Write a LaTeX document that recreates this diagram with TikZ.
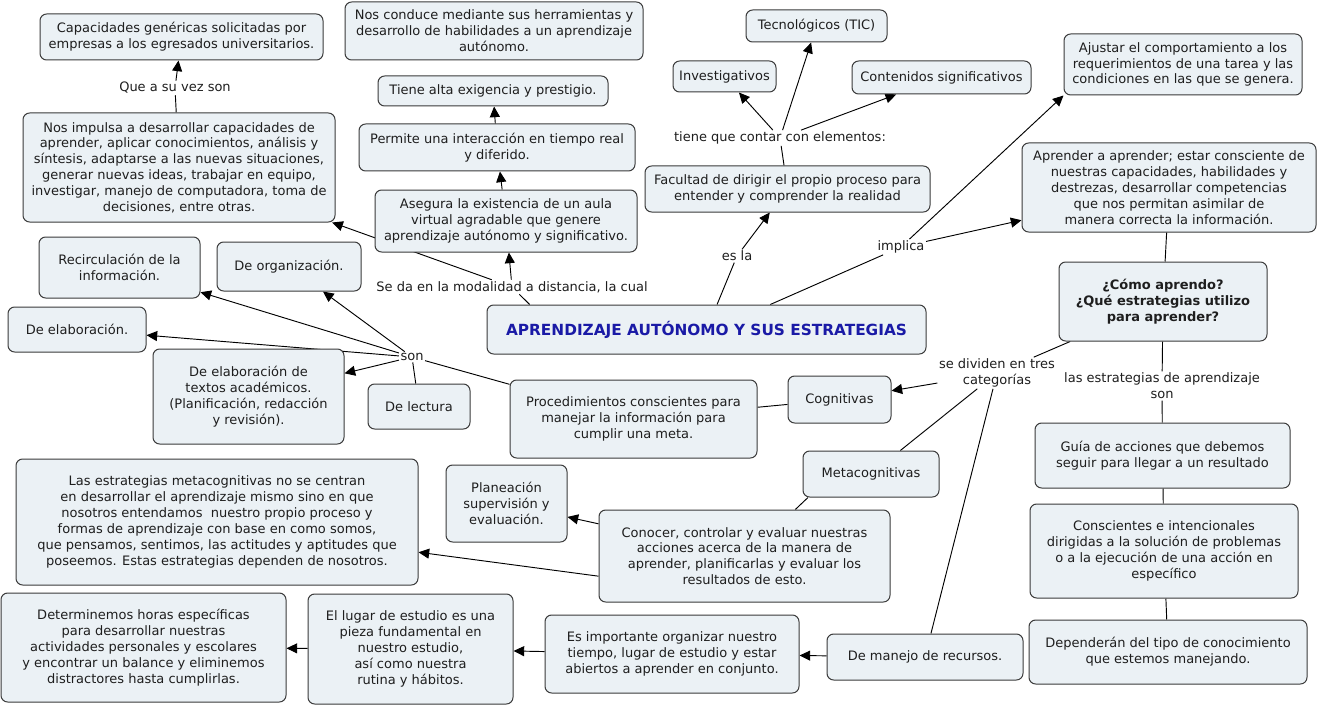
\documentclass[tikz,border=0pt]{standalone}
\usepackage{fontspec}
\setmainfont{DejaVu Sans}
\usetikzlibrary{arrows.meta,calc,backgrounds}
\definecolor{boxfill}{HTML}{EBF1F5}
\definecolor{boxline}{HTML}{3A3A3A}
\definecolor{titleblue}{HTML}{1A1AA6}
\definecolor{txt}{HTML}{1E1E1E}
\tikzset{
  box/.style={draw=boxline, fill=boxfill, rounded corners=5pt, line width=0.75pt, align=center, inner sep=0pt, text=txt,
              font=\fontsize{9.75}{11.9}\selectfont},
  bx/.style 2 args={box, minimum width=#1*0.75pt, minimum height=#2*0.75pt},
  titletext/.style={text=titleblue, font=\fontsize{11.5}{13}\selectfont\bfseries},
  boldtext/.style={font=\fontsize{9.75}{11.9}\selectfont\bfseries},
  lbl/.style={align=center, inner sep=1pt, text=txt, font=\fontsize{9.75}{11.9}\selectfont},
  ln/.style={draw=black, line width=0.7pt},
  arr/.style={ln, -{Triangle[length=8pt,width=7.5pt]}}
}
\begin{document}
\begin{tikzpicture}[x=0.75pt,y=-0.75pt]
\useasboundingbox (0,0) rectangle (1320,706);

% boxes
\node[bx={283}{46}] (cap) at (181.5,37) {Capacidades genéricas solicitadas por\\empresas a los egresados universitarios.};
\node[bx={312}{109}] (impulsa) at (179,167.5) {Nos impulsa a desarrollar capacidades de\\aprender, aplicar conocimientos, análisis y\\síntesis, adaptarse a las nuevas situaciones,\\generar nuevas ideas, trabajar en equipo,\\investigar, manejo de computadora, toma de\\decisiones, entre otras.};
\node[bx={298}{58}] (conduce) at (494,31) {Nos conduce mediante sus herramientas y\\desarrollo de habilidades a un aprendizaje\\autónomo.};
\node[bx={230}{30}] (tiene) at (493,91) {Tiene alta exigencia y prestigio.};
\node[bx={276}{47}] (permite) at (497,147.5) {Permite una interacción en tiempo real\\y diferido.};
\node[bx={262}{62}] (asegura) at (506,221) {Asegura la existencia de un aula\\virtual agradable que genere\\aprendizaje autónomo y significativo.};
\node[bx={103}{31}] (invest) at (724.5,76.5) {Investigativos};
\node[bx={141}{32}] (tecno) at (816.5,26) {Tecnológicos (TIC)};
\node[bx={179}{33}] (conten) at (941.5,77.5) {Contenidos significativos};
\node[bx={238}{61}] (ajustar) at (1183,64.5) {Ajustar el comportamiento a los\\requerimientos de una tarea y las\\condiciones en las que se genera.};
\node[bx={285}{46}] (facultad) at (787.5,189) {Facultad de dirigir el propio proceso para\\entender y comprender la realidad};
\node[bx={294}{89}] (aprender) at (1169,187.5) {Aprender a aprender; estar consciente de\\nuestras capacidades, habilidades y\\destrezas, desarrollar competencias\\que nos permitan asimilar de\\manera correcta la información.};
\node[bx={208}{79}, boldtext] (como) at (1163,301.5) {¿Cómo aprendo?\\¿Qué estrategias utilizo\\para aprender?};
\node[bx={255}{65}] (guia) at (1162.5,455.5) {Guía de acciones que debemos\\seguir para llegar a un resultado};
\node[bx={268}{94}] (consc) at (1164,551) {Conscientes e intencionales\\dirigidas a la solución de problemas\\o a la ejecución de una acción en\\específico};
\node[bx={278}{64}] (depend) at (1168,652) {Dependerán del tipo de conocimiento\\que estemos manejando.};
\node[bx={439}{49}, titletext] (main) at (706.5,329.5) {APRENDIZAJE AUTÓNOMO Y SUS ESTRATEGIAS};
\node[bx={161}{61}] (recirc) at (119.5,267.5) {Recirculación de la\\información.};
\node[bx={144}{49}] (organiz) at (289,266.5) {De organización.};
\node[bx={138}{45}] (elab) at (77,329.5) {De elaboración.};
\node[bx={191}{95}] (textos) at (248.5,396.5) {De elaboración de\\textos académicos.\\(Planificación, redacción\\y revisión).};
\node[bx={102}{45}] (lectura) at (419,406.5) {De lectura};
\node[bx={247}{78}] (proced) at (633.5,419) {Procedimientos conscientes para\\manejar la información para\\cumplir una meta.};
\node[bx={103}{47}] (cognit) at (839.5,399.5) {Cognitivas};
\node[bx={136}{46}] (metac) at (871,474) {Metacognitivas};
\node[bx={291}{92}] (conocer) at (744.5,556) {Conocer, controlar y evaluar nuestras\\acciones acerca de la manera de\\aprender, planificarlas y evaluar los\\resultados de esto.};
\node[bx={121}{77}] (planea) at (506.5,503.5) {Planeación\\supervisión y\\evaluación.};
\node[bx={402}{126}] (lasestr) at (217,522) {Las estrategias metacognitivas no se centran\\en desarrollar el aprendizaje mismo sino en que\\nosotros entendamos\ \ nuestro propio proceso y\\formas de aprendizaje con base en como somos,\\que pensamos, sentimos, las actitudes y aptitudes que\\poseemos. Estas estrategias dependen de nosotros.};
\node[bx={254}{78}] (esimp) at (672,654) {Es importante organizar nuestro\\tiempo, lugar de estudio y estar\\abiertos a aprender en conjunto.};
\node[bx={196}{46}] (manejo) at (925,657) {De manejo de recursos.};
\node[bx={205}{110}] (lugar) at (410.5,649) {El lugar de estudio es una\\pieza fundamental en\\nuestro estudio,\\así como nuestra\\rutina y hábitos.};
\node[bx={285}{109}] (determ) at (143.5,647.5) {Determinemos horas específicas\\para desarrollar nuestras\\actividades personales y escolares\\y encontrar un balance y eliminemos\\distractores hasta cumplirlas.};

% linking phrases
\node[lbl] (quesu) at (175,88) {Que a su vez son};
\node[lbl] (seda) at (512,287) {Se da en la modalidad a distancia, la cual};
\node[lbl] (esla) at (737,256) {es la};
\node[lbl] (tcontar) at (780,138) {tiene que contar con elementos:};
\node[lbl] (implica) at (901,247) {implica};
\node[lbl] (sediv) at (997,373) {se dividen en tres\\categorías};
\node[lbl] (lasest) at (1162,386) {las estrategias de aprendizaje\\son};
\node[lbl] (son) at (412,357) {son};

% connectors
\begin{pgfonlayer}{background}
\fill[white] (0,0) rectangle (1320,706);
\draw[ln] (impulsa) -- (quesu);
\draw[arr] (quesu) -- (cap);
\draw[ln] (seda) -- ($(main.north west)!0.098!(main.north east)$);
\draw[arr] (seda) -- (asegura);
\draw[arr] (seda) -- (impulsa);
\draw[arr] (asegura) -- (permite);
\draw[arr] (permite) -- (tiene);
\draw[ln] (esla) -- ($(main.north west)!0.524!(main.north east)$);
\draw[arr] (esla) -- (facultad);
\draw[ln] (facultad) -- (tcontar);
\draw[arr] (tcontar) -- (invest);
\draw[arr] (tcontar) -- (tecno);
\draw[arr] (tcontar) -- (conten);
\draw[ln] (implica) -- ($(main.north west)!0.645!(main.north east)$);
\draw[arr] (implica) -- (ajustar.south west);
\draw[arr] (implica) -- (aprender);
\draw[ln] (aprender) -- (como);
\draw[ln] (como) -- (lasest);
\draw[ln] (lasest) -- (guia);
\draw[ln] (guia) -- (consc);
\draw[ln] (consc) -- (depend);
\draw[ln] (como) -- (sediv);
\draw[arr] (sediv) -- (cognit);
\draw[ln] (sediv) -- (metac);
\draw[ln] (sediv) -- (manejo);
\draw[ln] (cognit) -- (proced);
\draw[ln] (proced) -- (son);
\draw[arr] (son) -- (recirc);
\draw[arr] (son) -- (organiz);
\draw[arr] (son) -- (elab);
\draw[arr] (son) -- (textos);
\draw[ln] (son) -- (lectura);
\draw[ln] ($(metac.south west)!0.04!(metac.south east)$) -- ($(conocer.north west)!0.674!(conocer.north east)$);
\draw[arr] (conocer) -- (planea);
\draw[arr] ($(conocer.north west)!0.717!(conocer.south west)$) -- ($(lasestr.north east)!0.738!(lasestr.south east)$);
\draw[arr] (manejo) -- (esimp);
\draw[arr] (esimp) -- (lugar);
\draw[arr] (lugar) -- (determ);
\end{pgfonlayer}
\end{tikzpicture}
\end{document}
